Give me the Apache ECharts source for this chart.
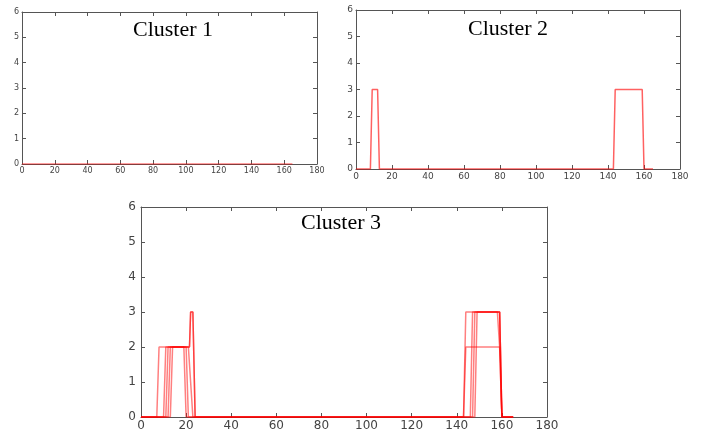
<!DOCTYPE html>
<html>
<head>
<meta charset="utf-8">
<script src="https://cdn.jsdelivr.net/npm/echarts@6/dist/echarts.min.js"></script>
<style>
  html, body { margin: 0; padding: 0; background: #fff; }
  #chart { width: 702px; height: 432px; }
</style>
</head>
<body>
<div id="chart"></div>
<script>
// x ticks 0..180, y ticks 0..6
var xTicks = [0, 20, 40, 60, 80, 100, 120, 140, 160, 180]
var yTicks = [0, 1, 2, 3, 4, 5, 6]
var titles = ['Cluster 1', 'Cluster 2', 'Cluster 3']

// breakpoints [x, y] of each member curve
var cluster1 = [
  [[0, 0], [165, 0]]
]
var cluster2 = [
  [[0, 0], [8, 0], [9, 3], [12, 3], [13, 0], [143, 0], [144, 3], [159, 3], [160, 0], [165, 0]]
]
var cluster3 = [
  [[0, 0], [7, 0], [8, 2], [21.5, 2], [22, 3], [23, 3], [24, 0], [143, 0], [144, 3], [159, 3], [160, 0], [165, 0]],
  [[0, 0], [10, 0], [11, 2], [21, 2], [22, 1], [23, 0], [143, 0], [144, 2], [159, 2], [160, 0], [165, 0]],
  [[0, 0], [12, 0], [13, 2], [19, 2], [20, 0], [146, 0], [147, 3], [159, 3], [160, 0], [165, 0]],
  [[0, 0], [13, 0], [14, 2], [20, 2], [21, 0], [148, 0], [149, 3], [158, 3], [159, 2], [160, 0], [165, 0]],
  [[0, 0], [11, 0], [12, 2], [21.5, 2], [22, 3], [23, 3], [24, 0], [147, 0], [148, 3], [159, 3], [160, 0], [165, 0]]
]

var panels = [
  {grid: {left: 22, top: 12, width: 295, height: 152}, fs: 8, xm: 3, ym: 3, tx: 173, ty: 30, curves: cluster1},
  {grid: {left: 356, top: 10, width: 324, height: 159}, fs: 9, xm: 3, ym: 3, tx: 508, ty: 29, curves: cluster2},
  {grid: {left: 141, top: 207, width: 406, height: 210}, fs: 12, xm: 3, ym: 5, tx: 341, ty: 223, curves: cluster3}
]

var axisColor = '#555'
var grids = [], xAxes = [], yAxes = [], series = [], graphics = []

panels.forEach(function (p, g) {
  grids.push(p.grid)
  ;['bottom', 'top'].forEach(function (pos) {
    xAxes.push({
      type: 'value', gridIndex: g, position: pos,
      min: xTicks[0], max: xTicks[xTicks.length - 1], interval: 20,
      axisLine: {onZero: false, lineStyle: {color: axisColor, width: 1}},
      axisTick: {inside: true, length: 4, lineStyle: {color: axisColor}},
      axisLabel: {show: pos === 'bottom', fontSize: p.fs, margin: p.xm, color: '#444', fontFamily: 'DejaVu Sans'},
      splitLine: {show: false}
    })
  })
  ;['left', 'right'].forEach(function (pos) {
    yAxes.push({
      type: 'value', gridIndex: g, position: pos,
      min: yTicks[0], max: yTicks[yTicks.length - 1], interval: 1,
      axisLine: {onZero: false, show: true, lineStyle: {color: axisColor, width: 1}},
      axisTick: {show: true, inside: true, length: 4, lineStyle: {color: axisColor}},
      axisLabel: {show: pos === 'left', fontSize: p.fs, margin: p.ym, color: '#444', fontFamily: 'DejaVu Sans'},
      splitLine: {show: false}
    })
  })
  p.curves.forEach(function (pts) {
    series.push({
      type: 'line', xAxisIndex: 2 * g, yAxisIndex: 2 * g,
      data: pts, symbol: 'none', silent: true,
      lineStyle: {color: g === 1 ? 'rgba(255,0,0,0.62)' : 'rgba(255,0,0,0.5)', width: 1.5}
    })
  })
  graphics.push({
    type: 'text', x: p.tx, y: p.ty, z: 100,
    style: {text: titles[g], fill: '#000', font: '22px "Liberation Serif"', align: 'center', verticalAlign: 'middle'}
  })
})

var myChart = echarts.init(document.getElementById('chart'))
myChart.setOption({
  animation: false,
  backgroundColor: '#fff',
  grid: grids,
  xAxis: xAxes,
  yAxis: yAxes,
  series: series,
  graphic: graphics
})
</script>
</body>
</html>
